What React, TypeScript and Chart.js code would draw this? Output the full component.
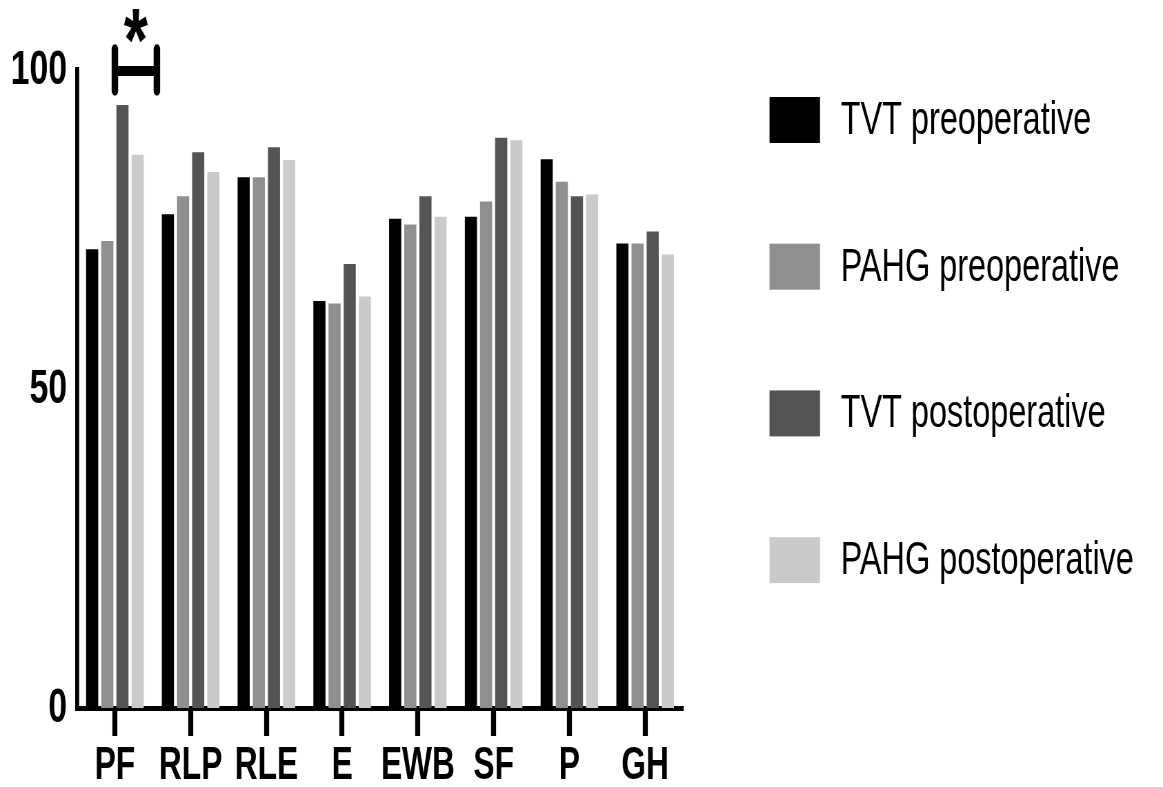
import { useEffect, useRef } from 'react';
import { Chart, registerables } from 'chart.js';

Chart.register(...registerables);

// ---- data ----
const categories = ['PF', 'RLP', 'RLE', 'E', 'EWB', 'SF', 'P', 'GH'];
const seriesNames = ['TVT preoperative', 'PAHG preoperative', 'TVT postoperative', 'PAHG postoperative'];
const tvtPre = [71.9, 77.4, 83.2, 63.8, 76.7, 77.0, 86.0, 72.8];
const pahgPre = [73.2, 80.2, 83.2, 63.4, 75.8, 79.4, 82.5, 72.8];
const tvtPost = [94.5, 87.1, 87.9, 69.6, 80.2, 89.4, 80.2, 74.7];
const pahgPost = [86.7, 84.0, 85.9, 64.5, 77.0, 89.0, 80.5, 71.1];
const yTicks = [0, 50, 100];
const colors = ['#000000', '#8f8f8f', '#545454', '#cacaca'];

// ---- geometry (the original picture is horizontally condensed) ----
const SCREEN_W = 1163;
const SCREEN_H = 787;
const INTERNAL_W = 1686;
const SX = SCREEN_W / INTERNAL_W;
const px = (screenX: number) => screenX / SX;

const NARROW = "'Liberation Sans Narrow', 'Liberation Sans', Arial, sans-serif";
const REGULAR = "'Liberation Sans', Arial, sans-serif";

const overlayPlugin = {
  id: 'overlay',
  afterDraw(chart: any) {
    const ctx = chart.ctx as CanvasRenderingContext2D;
    const xs = chart.scales.x;
    const ys = chart.scales.y;
    ctx.save();

    // significance bracket over PF
    const x0 = xs.getPixelForValue(0);
    const x1 = x0 + px(42);
    const y100 = ys.getPixelForValue(100);
    ctx.strokeStyle = '#000';
    ctx.lineWidth = 10;
    ctx.lineCap = 'butt';
    ctx.beginPath();
    ctx.moveTo(x0, y100 + 1);
    ctx.lineTo(x1, y100 + 1);
    ctx.stroke();
    ctx.lineWidth = px(6.5);
    ctx.lineCap = 'round';
    ctx.beginPath();
    ctx.moveTo(x0, y100 - 21);
    ctx.lineTo(x0, y100 + 21);
    ctx.moveTo(x1, y100 - 21);
    ctx.lineTo(x1, y100 + 21);
    ctx.stroke();

    // asterisk
    ctx.fillStyle = '#000';
    ctx.font = `bold 100px ${REGULAR}`;
    const m = ctx.measureText('*');
    const h = (m.actualBoundingBoxAscent + m.actualBoundingBoxDescent) || 30;
    const size = (100 * 34) / h;
    ctx.font = `bold ${size}px ${REGULAR}`;
    const m2 = ctx.measureText('*');
    ctx.textAlign = 'center';
    ctx.textBaseline = 'alphabetic';
    ctx.fillText('*', (x0 + x1) / 2, y100 - 61 + m2.actualBoundingBoxAscent);

    // legend
    const boxX = px(769.5);
    const boxW = px(50.5);
    const textX = px(840.7);
    ctx.font = `47px ${REGULAR}`;
    ctx.textAlign = 'left';
    ctx.textBaseline = 'middle';
    chart.data.datasets.forEach((ds: any, i: number) => {
      const cy = 120 + i * 146.7;
      ctx.fillStyle = ds.backgroundColor;
      ctx.fillRect(boxX, cy - 23, boxW, 46);
      ctx.fillStyle = '#000';
      ctx.fillText(ds.label, textX, cy + 1);
    });
    ctx.restore();
  },
};

export default function App() {
  const canvasRef = useRef<HTMLCanvasElement | null>(null);

  useEffect(() => {
    document.body.style.margin = '0';
    const canvas = canvasRef.current;
    if (!canvas) return;
    const seriesData = [tvtPre, pahgPre, tvtPost, pahgPost];
    const chart = new Chart(canvas, {
      type: 'bar',
      data: {
        labels: categories,
        datasets: seriesNames.map((name, i) => ({
          label: name,
          data: seriesData[i],
          backgroundColor: colors[i],
          borderWidth: 0,
          categoryPercentage: 0.8,
          barPercentage: 0.8,
        })),
      },
      options: {
        responsive: false,
        animation: false,
        devicePixelRatio: 1,
        layout: {
          padding: { top: 70, right: INTERNAL_W - px(683), left: 0, bottom: 0 },
        },
        plugins: {
          legend: { display: false },
          tooltip: { enabled: false },
        },
        scales: {
          x: {
            grid: {
              display: true,
              drawOnChartArea: false,
              drawTicks: true,
              offset: false,
              tickLength: 28,
              tickWidth: px(5),
              tickColor: '#000',
            },
            border: { display: true, color: '#000', width: 5 },
            ticks: {
              color: '#000',
              padding: 3,
              autoSkip: false,
              maxRotation: 0,
              minRotation: 0,
              font: { family: NARROW, size: 46, weight: 'bold' },
            },
            afterFit: (s: any) => {
              s.height = SCREEN_H - 708;
            },
          },
          y: {
            min: 0,
            max: 100,
            afterBuildTicks: (s: any) => {
              s.ticks = yTicks.map((v) => ({ value: v }));
            },
            ticks: {
              color: '#000',
              padding: px(10),
              font: { family: NARROW, size: 49, weight: 'bold' },
            },
            grid: { display: false, drawTicks: false },
            border: { display: true, color: '#000', width: px(4) },
            afterFit: (s: any) => {
              s.width = px(77);
            },
          },
        },
      },
      plugins: [overlayPlugin],
    } as any);
    return () => chart.destroy();
  }, []);

  return (
    <div style={{ width: SCREEN_W, height: SCREEN_H, position: 'relative' }}>
      <canvas
        ref={canvasRef}
        width={INTERNAL_W}
        height={SCREEN_H}
        style={{ width: `${SCREEN_W}px`, height: `${SCREEN_H}px`, display: 'block' }}
      />
    </div>
  );
}
